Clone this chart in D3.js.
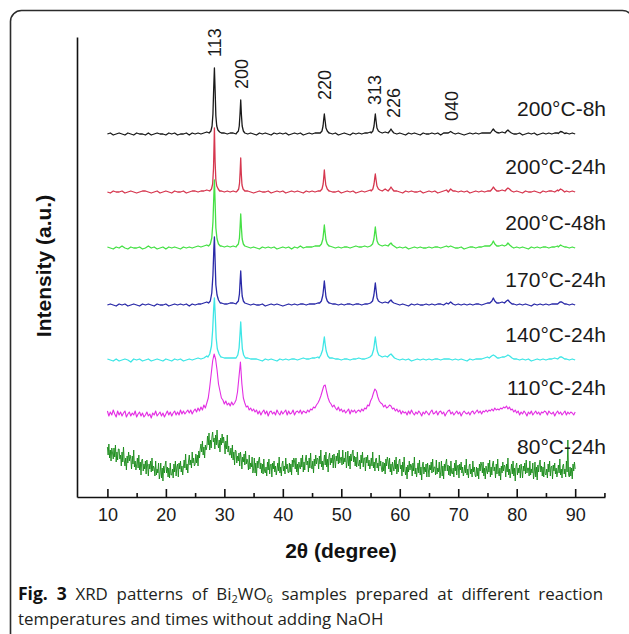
<!DOCTYPE html>
<html><head><meta charset="utf-8">
<script src="https://cdn.jsdelivr.net/npm/d3@7"></script>
<style>body{margin:0;background:#fff;} svg{display:block;}</style>
</head><body><svg id="c" width="629" height="634"></svg>
<script>
// ---------------- DATA ----------------
const sampleNames = ["200°C-8h","200°C-24h","200°C-48h","170°C-24h","140°C-24h","110°C-24h","80°C-24h"];
const sampleColors = ["#1a1a1a","#d6374f","#45e045","#2a2aa8","#3ee6e6","#e32ee3","#168a16"];
// vertical stacking offset of each pattern (a.u.)
const stackOffsets = [363, 305, 249, 192, 137, 84, 25];
// background scan: start angle and step (2θ, degree)
const scanStart = 10;
const scanSteps = [0.5, 0.5, 0.5, 0.5, 0.5, 0.25, 0.125];

const xTickLabels = [10, 20, 30, 40, 50, 60, 70, 80, 90];
const xMinorTicks = [15, 25, 35, 45, 55, 65, 75, 85, 95];

const hklLabels = ["113", "200", "220", "313", "226", "040"];
const hklAngles = [28.4, 32.9, 47.05, 55.75, 59.0, 68.85];
const hklLevels = [77, 45, 34, 29, 16, 13];

// background intensities (0.5° step, 10–90°)
const bg8h = [
0,1,-1,0,1,0,-1,1,0,-1, 1,0,0,-1,1,-1,0,1,0,0, -1,1,0,1,-1,0,0,1,-1,1, 0,1,0,1,2,4,30,6,2,1,
1,0,1,1,0,20,3,1,0,1, 0,-1,1,0,1,0,-1,1,0,1, 0,1,-1,0,1,0,1,-1,0,1, 0,1,1,2,10,2,1,0,1,-1,
0,1,0,-1,1,0,1,0,1,1, 2,8,4,2,1,2,3,2,1,0, 1,0,-1,1,0,1,0,-1,1,0, 0,1,0,1,-1,1,1,2,1,0,
1,0,-1,0,1,0,1,0,1,1, 1,2,4,2,1,2,3,2,1,0, 0,1,-1,0,1,0,1,-1,0,1, 0,1,0,1,1,2,2,1,0,1, 0];
const bg24h = [
0,-1,1,0,0,1,-1,0,1,0, -1,0,1,1,0,-1,0,1,-1,0, 1,0,-1,1,0,0,1,-1,0,1, 1,0,1,1,2,3,20,5,2,1,
0,1,0,1,0,18,3,1,1,0, -1,0,1,0,0,1,-1,0,1,0, 1,-1,0,1,0,1,0,-1,1,0, 1,0,1,2,12,2,1,0,0,1,
-1,0,1,0,1,-1,0,1,0,1, 2,9,3,2,1,3,2,1,0,1, 0,-1,1,0,1,0,0,1,-1,0, 1,0,1,-1,0,1,2,1,0,1,
0,1,0,1,-1,0,1,0,1,0, 1,3,4,2,1,2,3,1,1,0, 1,0,-1,1,0,0,1,0,-1,1, 0,1,1,0,2,2,1,1,0,1, 0];
const bg48h = [
1,0,-1,1,0,2,0,-1,1,0, 0,1,-1,0,2,0,1,-1,0,1, -1,1,0,1,0,-1,1,0,1,0, 1,2,1,2,3,4,25,6,3,2,
1,2,1,2,1,20,4,2,1,0, 1,0,-1,1,0,1,0,1,-1,0, 1,0,1,-1,1,0,2,0,1,1, 1,2,2,3,12,3,2,1,0,1,
0,1,1,0,1,2,1,1,2,1, 3,10,4,2,2,3,2,1,1,0, 1,0,1,-1,0,1,0,1,0,0, 1,0,1,1,0,1,2,1,1,0,
0,1,-1,0,1,1,0,1,1,2, 2,4,5,3,2,3,4,2,1,0, 1,0,1,0,-1,1,0,1,0,1, 1,0,1,1,2,3,2,1,0,1, 0];
const bg170 = [
0,1,0,-1,1,0,1,-1,0,1, 0,-1,1,0,1,0,-1,1,0,0, 1,-1,0,1,0,1,0,1,-1,1, 0,1,1,2,3,5,30,7,3,2,
1,1,2,2,1,20,4,2,1,0, 1,0,0,1,-1,0,1,0,1,0, -1,0,1,0,1,0,1,1,0,1, 1,1,2,3,12,3,2,1,1,0,
1,0,1,1,0,1,1,0,1,1, 3,10,4,2,2,3,2,1,0,1, 0,1,0,-1,1,0,1,0,0,1, 0,1,0,1,1,0,2,2,1,0,
1,0,1,0,1,0,1,1,0,1, 2,4,5,3,2,3,4,2,1,1, 0,1,0,1,0,-1,1,0,1,0, 1,0,1,1,2,2,2,1,0,1, 0];
const bg140 = [
1,0,-1,1,-1,0,1,0,-2,1, 0,1,-1,0,1,-1,0,1,0,-1, 1,0,-1,1,0,1,-1,0,1,0, 1,2,1,2,4,6,30,8,4,3,
2,2,2,2,2,20,5,3,2,1, 1,1,0,-1,1,0,1,0,-1,1, 0,1,0,1,1,0,1,2,1,1, 2,2,3,4,12,4,2,2,1,1,
0,1,1,0,1,1,2,1,1,2, 4,10,5,3,3,4,3,2,1,1, 0,1,0,1,-1,0,1,0,1,0, 1,0,1,1,0,1,1,1,0,1,
0,1,0,-1,1,0,1,1,1,2, 3,4,5,3,2,3,4,3,2,1, 1,0,1,0,1,-1,0,1,0,1, 0,1,1,2,2,2,1,1,0,1, 0];
// 0.25° step, 10–90°
const scan110 = [
2,-3,1,-2, 3,-1,-4,2, -2,1,-3,0, 2,-4,-1,1, -3,0,-2,2, -4,-1,1,-3, 0,-4,-2,1, -3,-1,-5,0,
-2,2,-3,-1, 1,-3,0,-4, -1,2,-2,1, -3,0,2,-2, 1,-2,3,-1, 2,-1,1,3, 0,3,-1,2, 4,1,5,2,
6,3,8,5, 10,15,26,39, 52,59,54,43, 29,22,15,13, 9,12,8,10, 7,11,8,10, 13,21,36,51, 29,15,10,6,
7,3,5,2, 4,1,3,-1, 2,-2,1,3, -1,2,-3,1, 2,-1,1,-2, 3,0,-2,2, -1,1,3,-2, 2,-1,0,3,
-2,1,2,0, 3,-1,2,1, 0,3,1,4, 3,6,5,8, 10,13,17,22, 27,28,21,15, 11,9,6,8, 5,3,6,2,
4,1,3,0, 2,4,-1,3, 1,3,0,2, 3,1,4,2, 5,4,8,7, 12,15,20,24, 22,16,12,10, 9,6,8,5,
6,8,7,4, 5,2,4,1, 3,-1,2,0, 1,-2,2,-1, 3,0,-2,1, -1,2,0,-3, 1,-1,2,0, -2,1,3,-1,
0,2,-2,1, 2,-1,1,-3, 0,2,3,-1, 1,-2,0,2, -1,1,-3,0, 2,0,-1,1, -2,1,2,-1, 1,3,0,2,
-1,2,1,3, 1,3,2,4, 2,5,3,4, 3,5,4,6, 5,7,4,6, 3,4,1,3, 0,2,-2,1, -1,2,0,-3,
1,-1,2,-2, 0,2,-1,1, -2,1,0,2, 1,-2,2,0, -1,1,-3,0, 2,-1,1,-2, 0,2,-2,1, -1,1,0,-2, 1];
// 0.125° step, 10–90°
const scan80 = [
25,17,28,14,22,11,24,19, 13,24,15,27,10,20,12,23, 23,13,17,6,20,10,25,12, 6,14,2,16,9,20,11,17,
13,3,16,8,22,5,11,2, 7,14,4,17,2,10,-3,12, 13,1,8,3,11,-2,12,6, -4,8,3,11,0,14,1,6,
4,-4,11,-3,3,-1,9,-7, -2,9,-6,4,-9,6,-1,7, 11,-1,5,-5,4,-6,9,-3, -3,3,-6,8,0,11,-4,5,
8,-5,9,3,11,0,6,-3, 5,12,4,18,2,8,-1,11, 17,7,12,4,20,9,14,6, 8,18,9,17,6,21,14,23,
28,20,31,17,25,14,27,22, 25,36,27,39,22,32,24,35, 40,30,34,23,37,27,42,29, 24,32,20,34,27,38,29,35,
28,18,31,23,37,20,26,17, 17,24,14,27,12,20,7,22, 21,9,16,11,19,6,20,14, 3,15,10,18,7,21,8,13,
10,2,17,3,9,5,15,-1, 3,14,-1,9,-4,11,4,12, 15,3,9,-1,8,-2,13,1, -1,5,-4,10,2,13,-2,7,
8,-5,9,3,11,0,6,-3, 2,9,1,15,-1,5,-4,8, 11,1,6,-2,14,3,8,0, -1,9,0,8,-3,12,5,14,
11,3,14,0,8,-3,10,5, 3,14,5,17,0,10,2,13, 17,7,11,0,14,4,19,6, 3,11,-1,13,6,17,8,14,
13,3,16,8,22,5,11,2, 10,17,7,20,5,13,0,15, 19,7,14,9,17,4,18,12, 4,16,11,19,8,22,9,14,
15,7,22,8,14,10,20,4, 10,21,6,16,3,18,11,19, 22,10,16,6,15,5,20,8, 6,12,3,17,9,20,5,14,
14,1,15,9,17,6,12,3, 7,14,6,20,4,10,1,13, 14,4,9,1,17,6,11,3, 0,10,1,9,-2,13,6,15,
11,3,14,0,8,-3,10,5, 1,12,3,15,-2,8,0,11, 13,3,7,-4,10,0,15,2, -3,5,-7,7,0,11,2,8,
6,-4,9,1,15,-2,4,-5, 2,9,-1,12,-3,5,-8,7, 10,-2,5,0,8,-5,9,3, -5,7,2,10,-1,13,0,5,
5,-3,12,-2,4,0,10,-6, 0,11,-4,6,-7,8,1,9, 13,1,7,-3,6,-4,11,-1, -2,4,-5,9,1,12,-3,6,
7,-6,8,2,10,-1,5,-4, 0,7,-1,13,-3,3,-6,6, 8,-2,3,-5,11,0,5,-3, -5,5,-4,4,-7,8,1,10,
7,-1,10,-4,4,-7,6,1, -2,9,0,12,-5,5,-3,8, 11,1,5,-6,8,-2,13,0, -4,4,-8,6,-1,10,1,7,
5,-5,8,0,14,-3,3,-6, 1,8,-2,11,-4,4,-9,6, 9,-3,4,-1,7,-6,8,2, -6,6,1,9,-2,12,-1,4,
4,-4,11,-3,3,-1,9,-7, -1,10,-5,5,-8,7,0,8, 12,0,6,-4,5,-5,10,-2, -3,3,-6,8,0,11,-4,5,
6,-7,7,1,9,-2,4,-5, 0,7,-1,13,-3,3,-6,6, 8,-2,3,-5,11,0,32,-3, -5,5,-4,4,-7,8,1,10, 3];

// peak profiles [2θ, intensity]
const peaks8h = [
 [[27.4,1],[27.7,3],[27.9,8],[28.05,20],[28.18,46],[28.3,66],[28.42,44],[28.55,18],[28.7,8],[28.9,4],[29.2,2]],
 [[32.1,1],[32.4,3],[32.55,8],[32.68,20],[32.8,34],[32.92,19],[33.05,8],[33.25,3],[33.5,1]],
 [[46.4,1],[46.7,3],[46.88,8],[47.0,15],[47.1,20],[47.22,14],[47.38,6],[47.6,3],[47.9,1]],
 [[55.1,1],[55.4,3],[55.6,8],[55.72,15],[55.82,20],[55.95,13],[56.1,6],[56.35,3],[56.6,2]],
 [[58.0,1],[58.3,3],[58.5,5],[58.7,3],[59.0,1]],
 [[68.3,1],[68.7,2.5],[69.1,1]],
 [[75.5,1],[75.8,3.5],[76.0,5],[76.25,3],[76.6,1.5]],
 [[78.0,1],[78.3,3],[78.5,4],[78.75,2.5],[79.1,1]],
 [[87.1,0.5],[87.5,2.5],[87.8,2],[88.2,0.5]]];
const peaks24h = [
 [[27.5,1],[27.8,3],[28.0,8],[28.15,24],[28.3,64],[28.42,30],[28.55,12],[28.7,6],[28.95,3],[29.2,1]],
 [[32.2,1],[32.45,3],[32.6,9],[32.7,20],[32.8,34],[32.9,18],[33.02,7],[33.2,3],[33.5,1]],
 [[46.4,1],[46.7,3],[46.9,8],[47.02,16],[47.1,22],[47.2,15],[47.35,7],[47.6,3],[47.9,1]],
 [[55.1,1],[55.4,3],[55.6,8],[55.72,14],[55.82,18],[55.95,12],[56.1,6],[56.35,3],[56.6,2]],
 [[58.0,1],[58.3,3],[58.5,5],[58.72,3],[59.0,1]],
 [[68.3,0],[68.7,3],[69.1,1]],
 [[75.5,1],[75.8,3],[76.0,5],[76.25,3],[76.6,1]],
 [[78.0,1],[78.3,3],[78.5,4],[78.75,3],[79.1,1]],
 [[87.1,1],[87.5,3],[87.8,2],[88.2,0]]];
const peaks48h = [
 [[27.3,2],[27.6,4],[27.85,10],[28.05,26],[28.2,52],[28.3,68],[28.42,46],[28.55,20],[28.75,9],[29.0,4],[29.3,2]],
 [[32.1,2],[32.4,4],[32.58,10],[32.7,22],[32.8,34],[32.92,20],[33.05,9],[33.25,4],[33.5,2]],
 [[46.3,2],[46.6,4],[46.85,9],[47.0,17],[47.1,23],[47.22,16],[47.38,8],[47.6,4],[47.9,2]],
 [[55.0,2],[55.35,4],[55.58,9],[55.72,16],[55.82,21],[55.95,14],[56.12,7],[56.35,4],[56.6,3]],
 [[58.0,2],[58.3,4],[58.5,5],[58.75,3],[59.0,2]],
 [[68.3,1],[68.7,2],[69.1,1]],
 [[75.4,2],[75.75,4],[76.0,7],[76.25,4],[76.6,2]],
 [[77.9,2],[78.25,3],[78.5,5],[78.8,3],[79.2,1]],
 [[87.1,1],[87.5,3],[87.8,2],[88.2,1]]];
const peaks170 = [
 [[27.3,2],[27.6,4],[27.85,12],[28.05,30],[28.2,56],[28.3,68],[28.42,44],[28.55,20],[28.75,10],[29.0,5],[29.3,2]],
 [[32.1,2],[32.4,4],[32.58,11],[32.7,24],[32.8,34],[32.92,20],[33.05,9],[33.25,4],[33.5,2]],
 [[46.3,2],[46.6,4],[46.85,10],[47.0,18],[47.1,24],[47.22,17],[47.38,8],[47.6,4],[47.9,2]],
 [[55.0,2],[55.35,4],[55.58,10],[55.72,17],[55.82,22],[55.95,15],[56.12,7],[56.35,4],[56.6,3]],
 [[58.0,2],[58.3,4],[58.5,5],[58.75,3],[59.0,2]],
 [[68.3,1],[68.7,3],[69.1,1]],
 [[75.4,2],[75.75,4],[76.0,7],[76.25,4],[76.6,2]],
 [[77.9,2],[78.25,4],[78.5,5],[78.8,3],[79.2,1]],
 [[87.0,1],[87.4,3],[87.7,3],[88.2,1]]];
const peaks140 = [
 [[27.2,3],[27.5,6],[27.8,14],[28.0,30],[28.18,52],[28.3,62],[28.45,44],[28.6,22],[28.8,11],[29.1,6],[29.4,3]],
 [[32.0,2],[32.3,5],[32.52,12],[32.68,26],[32.8,38],[32.93,24],[33.08,11],[33.3,5],[33.6,2]],
 [[46.2,2],[46.5,5],[46.8,10],[46.98,18],[47.1,23],[47.24,16],[47.42,9],[47.7,4],[48.0,2]],
 [[54.9,3],[55.25,5],[55.55,11],[55.7,18],[55.82,23],[55.97,16],[56.15,9],[56.4,5],[56.7,4]],
 [[57.9,3],[58.25,5],[58.5,6],[58.8,4],[59.1,2]],
 [[75.3,2],[75.7,4],[76.0,5],[76.3,4],[76.7,2]],
 [[77.9,3],[78.25,4],[78.5,5],[78.8,4],[79.2,2]],
 [[87.0,1],[87.4,3],[87.7,3],[88.2,1]]];
const peaks110 = [];
const peaks80 = [];

const backgrounds = [bg8h, bg24h, bg48h, bg170, bg140, scan110, scan80];
const peakSets = [peaks8h, peaks24h, peaks48h, peaks170, peaks140, peaks110, peaks80];

// ---------------- DRAW ----------------
const svg = d3.select("#c");
const x = d3.scaleLinear().domain([4.8, 95.1]).range([77, 605]);
const y = d3.scaleLinear().domain([0, 460]).range([497, 37]);
const ARIAL = "'Liberation Sans', Arial, Helvetica, sans-serif";

// frame
svg.append("rect").attr("x", 10.5).attr("y", 10.5).attr("width", 623).attr("height", 700)
  .attr("rx", 11).attr("ry", 11).attr("fill", "none").attr("stroke", "#2b2b2b").attr("stroke-width", 1.6);

function buildPattern(bg, step, peaks) {
  const pts = bg.map((v, i) => [scanStart + i * step, v]);
  const spans = peaks.map(seg => [seg[0][0], seg[seg.length - 1][0]]);
  const kept = pts.filter(([a]) => !spans.some(([lo, hi]) => a >= lo && a <= hi));
  return kept.concat(...peaks).sort((p, q) => p[0] - q[0]);
}

const gLines = svg.append("g");
sampleNames.forEach((name, i) => {
  const pts = buildPattern(backgrounds[i], scanSteps[i], peakSets[i]);
  const line = d3.line().x(d => x(d[0])).y(d => y(d[1] + stackOffsets[i]));
  gLines.append("path").datum(pts).attr("d", line)
    .attr("fill", "none").attr("stroke", sampleColors[i])
    .attr("stroke-width", i === 6 ? 0.9 : (i === 5 ? 1.1 : 1.3)).attr("stroke-linejoin", "round");
});

// sample labels
const gLab = svg.append("g").attr("font-family", ARIAL)
  .attr("font-size", 21).attr("fill", "#1a1a1a").attr("text-anchor", "end");
sampleNames.forEach((name, i) => {
  gLab.append("text").attr("x", 606).attr("y", y(stackOffsets[i]) - 18).text(name);
});

// hkl labels
const gHkl = svg.append("g").attr("font-family", ARIAL)
  .attr("font-size", 18).attr("fill", "#1a1a1a");
hklLabels.forEach((lab, i) => {
  const px = x(hklAngles[i]) + 6.5, py = y(stackOffsets[0] + hklLevels[i]);
  gHkl.append("text").attr("transform", `translate(${px},${py}) rotate(-90)`).text(lab);
});

// axes
const xAxis = d3.axisBottom(x).tickValues(xTickLabels).tickSize(-8).tickSizeOuter(0).tickPadding(11);
const gx = svg.append("g").attr("transform", "translate(0,497)").call(xAxis);
gx.select(".domain").attr("stroke", "#111").attr("stroke-width", 1.6);
gx.selectAll(".tick line").attr("stroke", "#111").attr("stroke-width", 1.6);
gx.selectAll(".tick text").attr("font-family", ARIAL)
  .attr("font-size", 18).attr("fill", "#1a1a1a");
const xMinor = d3.axisBottom(x).tickValues(xMinorTicks).tickSize(-4).tickSizeOuter(0).tickFormat("");
const gxm = svg.append("g").attr("transform", "translate(0,497)").call(xMinor);
gxm.select(".domain").remove();
gxm.selectAll(".tick line").attr("stroke", "#111").attr("stroke-width", 1.6);

const yAxis = d3.axisLeft(y).tickValues([]).tickSizeOuter(0);
const gy = svg.append("g").attr("transform", "translate(77,0)").call(yAxis);
gy.select(".domain").attr("stroke", "#111").attr("stroke-width", 1.6);

// titles
svg.append("text").attr("x", 341).attr("y", 558).attr("text-anchor", "middle")
  .attr("font-family", ARIAL).attr("font-weight", "bold")
  .attr("font-size", 21).attr("fill", "#111").text("2θ (degree)");
svg.append("text").attr("transform", "translate(51,266) rotate(-90)").attr("text-anchor", "middle")
  .attr("font-family", ARIAL).attr("font-weight", "bold")
  .attr("font-size", 21).attr("fill", "#111").text("Intensity (a.u.)");

// caption (first line justified to the full width)
const cap = svg.append("g").attr("font-family", "'Open Sans', 'Noto Sans', sans-serif")
  .attr("font-size", 16.9).attr("fill", "#231f20");
const t1 = cap.append("text").attr("x", 18).attr("y", 600);
t1.append("tspan").attr("font-weight", "bold").attr("font-size", 17.5).attr("fill", "#111").text("Fig. 3");
t1.append("tspan").text(" XRD patterns of Bi");
t1.append("tspan").attr("font-size", 11).attr("dy", 3).text("2");
t1.append("tspan").attr("dy", -3).text("WO");
t1.append("tspan").attr("font-size", 11).attr("dy", 3).text("6");
t1.append("tspan").attr("dy", -3).text(" samples prepared at different reaction");
const natural = t1.node().getComputedTextLength();
t1.attr("word-spacing", Math.max(0, (585 - natural) / 10));
cap.append("text").attr("x", 18).attr("y", 625).text("temperatures and times without adding NaOH");
</script></body></html>
